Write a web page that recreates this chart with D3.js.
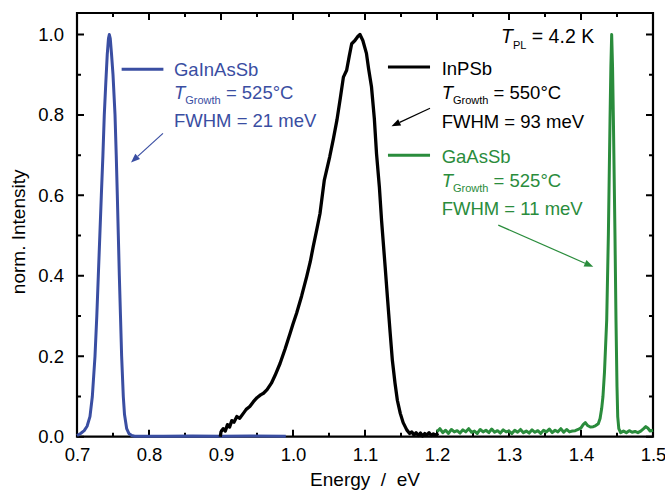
<!DOCTYPE html>
<html>
<head>
<meta charset="utf-8">
<script src="https://cdn.jsdelivr.net/npm/d3@7"></script>
<style>
  html, body { margin: 0; padding: 0; background: #fff; }
  svg { display: block; }
  text { font-family: "Liberation Sans", Arial, Helvetica, sans-serif; }
</style>
</head>
<body>
<svg id="chart" width="665" height="496"></svg>
<script>
// ---------------- data ----------------
const xTicks = [0.7, 0.8, 0.9, 1.0, 1.1, 1.2, 1.3, 1.4, 1.5];
const xMinorTicks = [0.75, 0.85, 0.95, 1.05, 1.15, 1.25, 1.35, 1.45];
const yTicks = [0.0, 0.2, 0.4, 0.6, 0.8, 1.0];
const yMinorTicks = [0.1, 0.3, 0.5, 0.7, 0.9];

// GaInAsSb (blue)  [energy eV, norm. intensity]
const gaInAsSb = [
  [0.700,0.003],[0.705,0.008],[0.710,0.015],[0.714,0.026],[0.718,0.05],[0.7213,0.1],
  [0.725,0.2],[0.7275,0.3],[0.7296,0.4],[0.7317,0.5],[0.7338,0.6],[0.736,0.7],
  [0.7379,0.8],[0.740,0.88],[0.742,0.95],[0.7437,0.99],[0.7449,1.0],[0.7462,0.99],
  [0.748,0.95],[0.750,0.9],[0.7528,0.8],[0.7545,0.7],[0.756,0.6],[0.7574,0.5],
  [0.7588,0.4],[0.7604,0.3],[0.762,0.2],[0.7643,0.1],[0.766,0.055],[0.769,0.02],
  [0.772,0.008],[0.776,0.003],[0.780,0.001],[0.82,0.001],[0.86,0.002],[0.90,0.001],
  [0.94,0.002],[0.99,0.001]
];

// InPSb (black)
const inPSb = [
  [0.899,0.0],[0.900,0.012],[0.903,0.02],[0.906,0.014],[0.909,0.03],[0.912,0.024],
  [0.915,0.04],[0.918,0.036],[0.922,0.05],[0.926,0.046],[0.931,0.058],[0.935,0.068],
  [0.940,0.075],[0.945,0.087],[0.950,0.097],[0.955,0.104],[0.959,0.108],[0.964,0.117],
  [0.970,0.133],[0.975,0.152],[0.982,0.182],[0.989,0.218],[0.996,0.257],[1.000,0.28],
  [1.005,0.307],[1.012,0.35],[1.019,0.398],[1.024,0.435],[1.028,0.472],[1.033,0.515],
  [1.0375,0.555],[1.0435,0.638],[1.051,0.696],[1.056,0.74],[1.061,0.787],[1.066,0.845],
  [1.070,0.894],[1.0745,0.911],[1.078,0.945],[1.0815,0.977],[1.086,0.985],[1.090,0.995],
  [1.093,1.0],[1.097,0.985],[1.102,0.953],[1.105,0.915],[1.109,0.87],[1.113,0.79],
  [1.116,0.704],[1.120,0.62],[1.123,0.538],[1.128,0.422],[1.131,0.35],[1.135,0.257],
  [1.138,0.19],[1.1417,0.133],[1.145,0.09],[1.149,0.058],[1.153,0.035],[1.158,0.017],
  [1.162,0.008],[1.165,0.012],[1.168,0.004],[1.171,0.01],[1.174,0.003],[1.177,0.009],
  [1.180,0.002],[1.183,0.008],[1.186,0.004],[1.189,0.010],[1.192,0.003],[1.195,0.007],
  [1.198,0.004],[1.202,0.008]
];

// GaAsSb (green)
const gaAsSb = [
  [1.200,0.012],[1.204,0.020],[1.208,0.010],[1.212,0.016],[1.216,0.008],[1.220,0.018],
  [1.224,0.012],[1.228,0.015],[1.232,0.009],[1.236,0.017],[1.240,0.012],[1.244,0.020],
  [1.248,0.011],[1.252,0.014],[1.256,0.008],[1.260,0.018],[1.264,0.012],[1.268,0.016],
  [1.272,0.010],[1.276,0.019],[1.280,0.011],[1.284,0.015],[1.288,0.009],[1.292,0.017],
  [1.296,0.012],[1.300,0.014],[1.304,0.008],[1.308,0.016],[1.312,0.011],[1.316,0.018],
  [1.320,0.010],[1.324,0.014],[1.328,0.009],[1.332,0.017],[1.336,0.011],[1.340,0.015],
  [1.344,0.008],[1.348,0.016],[1.352,0.012],[1.356,0.019],[1.360,0.010],[1.364,0.016],
  [1.368,0.012],[1.372,0.020],[1.376,0.011],[1.380,0.018],[1.384,0.012],[1.388,0.014],
  [1.392,0.015],[1.396,0.018],[1.400,0.022],[1.403,0.030],[1.406,0.035],[1.409,0.028],
  [1.413,0.024],[1.417,0.025],[1.420,0.027],[1.424,0.032],[1.4265,0.045],[1.4287,0.07],
  [1.4305,0.10],[1.4326,0.16],[1.4357,0.29],[1.438,0.5],[1.4403,0.787],[1.4415,0.92],
  [1.4426,1.0],[1.4438,0.92],[1.445,0.787],[1.4472,0.5],[1.4486,0.29],[1.450,0.124],
  [1.451,0.05],[1.4525,0.02],[1.455,0.010],[1.459,0.014],[1.463,0.010],[1.467,0.015],
  [1.471,0.011],[1.475,0.013],[1.479,0.010],[1.483,0.014],[1.487,0.020],[1.490,0.025],
  [1.493,0.021],[1.496,0.014],[1.500,0.016]
];

// ---------------- chart ----------------
const svg = d3.select("#chart");
const L = 77, R = 653, T = 13, B = 436.7;
const x = d3.scaleLinear().domain([0.7, 1.5]).range([L, R]);
const y = d3.scaleLinear().domain([0, 1.0534]).range([B, T]);

const FS = 18.5;
const blue = "#3a4ea2", green = "#2a8c3c", black = "#000";

// frame (drawn first)
svg.append("path")
  .attr("d", `M${L},${T}H${R}V${B}H${L}Z`)
  .style("fill", "none").style("stroke", "#000").style("stroke-width", "2.2px");

// inward tick marks on all four sides
const tickG = svg.append("g").style("stroke", "#000").style("stroke-width", "2px");
function xTickMarks(vals, len) {
  tickG.selectAll(null).data(vals).enter().append("path")
    .attr("d", d => `M${x(d)},${B}V${B - len}M${x(d)},${T}V${T + len}`);
}
function yTickMarks(vals, len) {
  tickG.selectAll(null).data(vals).enter().append("path")
    .attr("d", d => `M${L},${y(d)}H${L + len}M${R},${y(d)}H${R - len}`);
}
xTickMarks(xTicks, 7); xTickMarks(xMinorTicks, 4);
yTickMarks(yTicks, 7); yTickMarks(yMinorTicks, 4);

// curves
const line = d3.line().x(d => x(d[0])).y(d => y(d[1]));
svg.append("path").datum(gaInAsSb).attr("d", line)
  .attr("fill", "none").attr("stroke", blue).attr("stroke-width", 3).attr("stroke-linejoin", "round");
svg.append("path").datum(inPSb).attr("d", line)
  .attr("fill", "none").attr("stroke", black).attr("stroke-width", 3.3).attr("stroke-linejoin", "round");
svg.append("path").datum(gaAsSb).attr("d", line)
  .attr("fill", "none").attr("stroke", green).attr("stroke-width", 3).attr("stroke-linejoin", "round");

// tick labels via d3 axes
function styleAxis(g) {
  g.select(".domain").remove();
  g.selectAll(".tick line").remove();
  g.selectAll(".tick text").attr("font-size", FS).attr("fill", "#000")
    .attr("font-family", "'Liberation Sans', Arial, sans-serif");
}
svg.append("g").attr("transform", `translate(0,${B})`)
  .call(d3.axisBottom(x).tickValues(xTicks).tickFormat(d3.format(".1f")).tickSize(0).tickPadding(11))
  .call(styleAxis);
svg.append("g").attr("transform", `translate(${L},0)`)
  .call(d3.axisLeft(y).tickValues(yTicks).tickFormat(d3.format(".1f")).tickSize(0).tickPadding(13))
  .call(styleAxis);

// axis titles
svg.append("text").attr("x", (L + R) / 2).attr("y", 486).attr("text-anchor", "middle")
  .attr("font-size", 19).style("white-space", "pre").text("Energy  /  eV");
svg.append("text").attr("transform", `translate(25,${(T + B) / 2 + 7}) rotate(-90)`)
  .attr("text-anchor", "middle").attr("font-size", 19).text("norm. Intensity");

// annotations / legend
const labels = [
  { name: "GaInAsSb", tg: "525°C", fwhm: "21 meV", color: blue,
    line: [0.762, 0.82], ly: 0.9135, tx: 0.8347, ty: [76, 99, 127],
    arrow: [[0.8194, 0.754], [0.775, 0.682]] },
  { name: "InPSb", tg: "550°C", fwhm: "93 meV", color: black,
    line: [1.1319, 1.1903], ly: 0.919, tx: 1.2065, ty: [75, 99, 128],
    arrow: [[1.1903, 0.8166], [1.1368, 0.772]] },
  { name: "GaAsSb", tg: "525°C", fwhm: "11 meV", color: green,
    line: [1.1319, 1.1903], ly: 0.700, tx: 1.2065, ty: [163, 187, 215],
    arrow: [[1.2851, 0.526], [1.417, 0.4224]] }
];

labels.forEach((lb) => {
  svg.append("line").attr("x1", x(lb.line[0])).attr("x2", x(lb.line[1]))
    .attr("y1", y(lb.ly)).attr("y2", y(lb.ly)).attr("stroke", lb.color).attr("stroke-width", 3);

  const tx = x(lb.tx);
  svg.append("text").attr("x", tx).attr("y", lb.ty[0]).attr("font-size", FS)
    .attr("fill", lb.color).text(lb.name);
  const t2 = svg.append("text").attr("x", tx).attr("y", lb.ty[1]).attr("font-size", FS)
    .attr("fill", lb.color);
  t2.append("tspan").attr("font-style", "italic").text("T");
  t2.append("tspan").attr("font-size", 11).attr("dy", 5).text("Growth");
  t2.append("tspan").attr("dy", -5).text(" = " + lb.tg);
  svg.append("text").attr("x", tx).attr("y", lb.ty[2]).attr("font-size", FS)
    .attr("fill", lb.color).text("FWHM = " + lb.fwhm);

  // arrow: shaft + filled triangular head
  const x1 = x(lb.arrow[0][0]), y1 = y(lb.arrow[0][1]);
  const x2 = x(lb.arrow[1][0]), y2 = y(lb.arrow[1][1]);
  const ang = Math.atan2(y2 - y1, x2 - x1);
  const hl = 9, hw = 3.5;
  const bx = x2 - hl * Math.cos(ang), by = y2 - hl * Math.sin(ang);
  svg.append("line").attr("x1", x1).attr("y1", y1).attr("x2", bx).attr("y2", by)
    .attr("stroke", lb.color).attr("stroke-width", 1.2);
  svg.append("path")
    .attr("d", `M${x2},${y2}L${bx + hw * Math.sin(ang)},${by - hw * Math.cos(ang)}L${bx - hw * Math.sin(ang)},${by + hw * Math.cos(ang)}Z`)
    .attr("fill", lb.color);
});

// T_PL label
const tpl = svg.append("text").attr("x", 501).attr("y", 43).attr("font-size", FS + 1).attr("fill", "#000");
tpl.append("tspan").attr("font-style", "italic").text("T");
tpl.append("tspan").attr("font-size", 11).attr("dy", 6).text("PL");
tpl.append("tspan").attr("dy", -6).text(" = 4.2 K");
</script>
</body>
</html>
